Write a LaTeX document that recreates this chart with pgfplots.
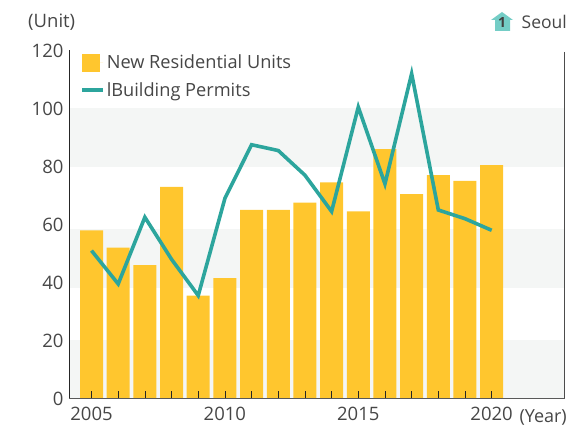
\documentclass[border=0pt]{standalone}
\usepackage{fontspec}
\setmainfont{Open Sans}
\usepackage{pgfplots}
\pgfplotsset{compat=1.18}
\definecolor{cBar}{RGB}{255,198,46}
\definecolor{cLine}{RGB}{44,165,157}
\definecolor{cBand}{RGB}{244,246,245}
\definecolor{cText}{RGB}{70,70,70}
\definecolor{cIcon}{RGB}{116,205,198}

\begin{document}
\begin{tikzpicture}[x=1pt,y=1pt]
\useasboundingbox (0,0) rectangle (573,436);
\begin{axis}[
  at={(69pt,37.5pt)}, anchor=south west,
  scale only axis, width=495.5pt, height=348pt,
  xmin=2004.156, xmax=2022.73, ymin=0, ymax=120,
  axis x line*=bottom, axis y line*=left,
  x axis line style={-, black!65, line width=1.4pt},
  y axis line style={-, black!85, line width=1pt},
  xtick={2005,...,2020},
  xticklabels={2005,,,,,2010,,,,,2015,,,,,2020},
  ytick={0,20,...,120},
  major tick length=0pt,
  x tick label style={yshift=-5pt},
  tick label style={font=\fontsize{18.5}{20}\selectfont, text=cText},
  /pgf/number format/assume math mode=true,
  /pgf/number format/1000 sep={},
  yticklabel style={xshift=-2pt},
  clip=false,
  axis on top,
  legend cell align=left,
  legend style={at={(0.0222,0.993)}, anchor=north west, draw=none, fill=none,
    font=\fontsize{18.2}{20}\selectfont, text=cText, inner sep=0pt,
    row sep=8pt},
]
% background bands
\addplot[forget plot, draw=none, fill=cBand] coordinates {(2004.156,79.7) (2022.73,79.7) (2022.73,100.3) (2004.156,100.3)} -- cycle;
\addplot[forget plot, draw=none, fill=cBand] coordinates {(2004.156,38) (2022.73,38) (2022.73,58.6) (2004.156,58.6)} -- cycle;
\addplot[forget plot, draw=none, fill=cBand] coordinates {(2004.156,0) (2022.73,0) (2022.73,20) (2004.156,20)} -- cycle;

% bars
\addplot[ybar, bar width=23pt, bar shift=0pt, draw=none, fill=cBar,
  area legend,
  legend image code/.code={\fill[cBar] (0pt,-9pt) rectangle (18pt,9pt); \path (0pt,0pt) -- (21pt,0pt);}]
  coordinates {
  (2005,58) (2006,52) (2007,46) (2008,73) (2009,35.5) (2010,41.5)
  (2011,65) (2012,65) (2013,67.5) (2014,74.5) (2015,64.5) (2016,86)
  (2017,70.5) (2018,77) (2019,75) (2020,80.5)};
\addlegendentry{New Residential Units}

% line
\addplot[cLine, line width=3.6pt, mark=none, line join=miter,
  legend image code/.code={\draw[cLine, line width=3.6pt] (0pt,0pt) -- (18pt,0pt); \path (0pt,0pt) -- (21pt,0pt);}]
  coordinates {
  (2005,51) (2006,39.5) (2007,62.5) (2008,48) (2009,35.5) (2010,69)
  (2011,87.5) (2012,85.5) (2013,77) (2014,64.5) (2015,100.5) (2016,74)
  (2017,112) (2018,65) (2019,62) (2020,58)};
\addlegendentry{lBuilding Permits}

% x ticks over the bars
\pgfplotsinvokeforeach{2005,...,2020}{
  \draw[black!85, line width=0.7pt] (axis cs:#1,0) -- ++(0pt,7pt);
}
% right axis line
\draw[black!70, line width=1pt] (rel axis cs:1,0.996) -- (rel axis cs:1,0);
\end{axis}
\node[anchor=base west, font=\fontsize{18.5}{20}\selectfont, text=cText, inner sep=0pt] at (28,408) {(Unit)};
\node[anchor=base east, font=\fontsize{17.5}{20}\selectfont, text=cText, inner sep=0pt] at (567,407) {Seoul};
\node[anchor=base east, font=\fontsize{18}{20}\selectfont, text=cText, inner sep=0pt] at (567,13) {(Year)};
% house icon
\fill[cIcon] (491,416) -- (502,424) -- (513,416) -- (510,416) -- (510,405) -- (495,405) -- (495,416) -- cycle;
\node[font=\bfseries\fontsize{14}{14}\selectfont, text=black!75, inner sep=0pt] at (502,413) {1};
\end{tikzpicture}
\end{document}
